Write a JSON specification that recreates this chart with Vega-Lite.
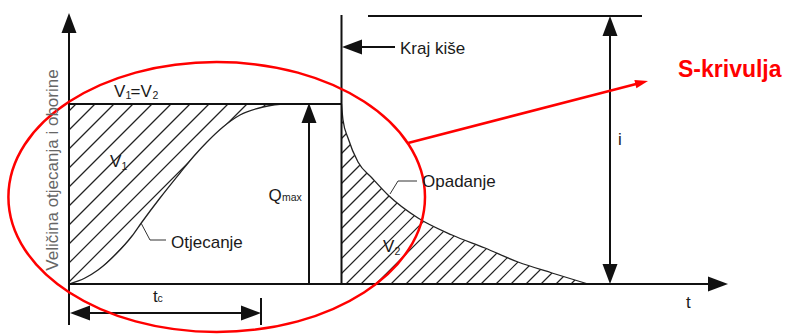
{
  "$schema": "https://vega.github.io/schema/vega-lite/v6.json",
  "width": 788,
  "height": 334,
  "autosize": "none",
  "padding": 0,
  "background": "white",
  "config": {"view": {"stroke": null}, "text": {"font": "Liberation Sans"}},
  "datasets": {
    "hatch1": [
      {"x": 69, "y": 111, "x2": 76, "y2": 104},
      {"x": 69, "y": 130, "x2": 95, "y2": 104},
      {"x": 69, "y": 149, "x2": 114, "y2": 104},
      {"x": 69, "y": 168, "x2": 133, "y2": 104},
      {"x": 69, "y": 187, "x2": 152, "y2": 104},
      {"x": 69, "y": 206, "x2": 171, "y2": 104},
      {"x": 69, "y": 225, "x2": 190, "y2": 104},
      {"x": 69, "y": 244, "x2": 209, "y2": 104},
      {"x": 69, "y": 263, "x2": 228, "y2": 104},
      {"x": 69, "y": 282, "x2": 247, "y2": 104},
      {"x": 86, "y": 284, "x2": 266, "y2": 104}
    ],
    "hatch2": [
      {"x": 341.5, "y": 108.5, "x2": 346, "y2": 104},
      {"x": 341.5, "y": 123.5, "x2": 361, "y2": 104},
      {"x": 341.5, "y": 138.5, "x2": 376, "y2": 104},
      {"x": 341.5, "y": 153.5, "x2": 391, "y2": 104},
      {"x": 341.5, "y": 168.5, "x2": 406, "y2": 104},
      {"x": 341.5, "y": 183.5, "x2": 421, "y2": 104},
      {"x": 341.5, "y": 198.5, "x2": 436, "y2": 104},
      {"x": 341.5, "y": 213.5, "x2": 451, "y2": 104},
      {"x": 341.5, "y": 228.5, "x2": 466, "y2": 104},
      {"x": 341.5, "y": 243.5, "x2": 481, "y2": 104},
      {"x": 341.5, "y": 258.5, "x2": 496, "y2": 104},
      {"x": 341.5, "y": 273.5, "x2": 511, "y2": 104},
      {"x": 346, "y": 284, "x2": 526, "y2": 104},
      {"x": 361, "y": 284, "x2": 541, "y2": 104},
      {"x": 376, "y": 284, "x2": 556, "y2": 104},
      {"x": 391, "y": 284, "x2": 571, "y2": 104},
      {"x": 406, "y": 284, "x2": 586, "y2": 104},
      {"x": 421, "y": 284, "x2": 601, "y2": 104},
      {"x": 436, "y": 284, "x2": 616, "y2": 104},
      {"x": 451, "y": 284, "x2": 631, "y2": 104},
      {"x": 466, "y": 284, "x2": 646, "y2": 104},
      {"x": 481, "y": 284, "x2": 661, "y2": 104},
      {"x": 496, "y": 284, "x2": 676, "y2": 104},
      {"x": 511, "y": 284, "x2": 691, "y2": 104},
      {"x": 526, "y": 284, "x2": 706, "y2": 104},
      {"x": 541, "y": 284, "x2": 721, "y2": 104},
      {"x": 556, "y": 284, "x2": 736, "y2": 104},
      {"x": 571, "y": 284, "x2": 751, "y2": 104},
      {"x": 586, "y": 284, "x2": 766, "y2": 104}
    ],
    "scurve": [
      {"x": 69, "y": 284}, {"x": 85, "y": 278}, {"x": 98, "y": 270}, {"x": 116, "y": 254},
      {"x": 132, "y": 236}, {"x": 142, "y": 222}, {"x": 160, "y": 198}, {"x": 180, "y": 173},
      {"x": 194, "y": 156}, {"x": 207, "y": 142}, {"x": 223, "y": 127}, {"x": 240, "y": 115},
      {"x": 263, "y": 107}, {"x": 285, "y": 104}, {"x": 341, "y": 104}
    ],
    "rcurve": [
      {"x": 341.5, "y": 104}, {"x": 343, "y": 120}, {"x": 348, "y": 138}, {"x": 358, "y": 162},
      {"x": 372, "y": 178}, {"x": 388, "y": 195}, {"x": 418, "y": 218}, {"x": 452, "y": 235},
      {"x": 485, "y": 248}, {"x": 518, "y": 262}, {"x": 552, "y": 273}, {"x": 588, "y": 284}
    ],
    "maskrect": [{"x": 588, "x2": 790, "y": 100, "y2": 284}],
    "rules": [
      {"x": 69, "y": 20, "x2": 69, "y2": 325},
      {"x": 69, "y": 284, "x2": 715, "y2": 284},
      {"x": 69, "y": 104, "x2": 341.5, "y2": 104},
      {"x": 341.5, "y": 15, "x2": 341.5, "y2": 284},
      {"x": 309, "y": 118, "x2": 309, "y2": 284},
      {"x": 368, "y": 16, "x2": 642, "y2": 16},
      {"x": 610, "y": 30, "x2": 610, "y2": 270},
      {"x": 355, "y": 47, "x2": 395, "y2": 47},
      {"x": 80, "y": 313, "x2": 250, "y2": 313},
      {"x": 261, "y": 298, "x2": 261, "y2": 325}
    ],
    "leaders": [
      {"id": "a", "o": 1, "x": 141, "y": 223}, {"id": "a", "o": 2, "x": 150, "y": 240}, {"id": "a", "o": 3, "x": 166, "y": 240},
      {"id": "b", "o": 1, "x": 390, "y": 194}, {"id": "b", "o": 2, "x": 398, "y": 181}, {"id": "b", "o": 3, "x": 417, "y": 181}
    ],
    "ellipse": [{"x": 216.7, "y": 197}],
    "redline": [{"x": 408, "y": 143, "x2": 640, "y2": 83}],
    "redhead": [{"x": 648, "y": 81, "a": 76}],
    "heads": [
      {"x": 69, "y": 13, "a": 0},
      {"x": 728, "y": 284, "a": 90},
      {"x": 309, "y": 103, "a": 0},
      {"x": 610, "y": 16, "a": 0},
      {"x": 610, "y": 284, "a": 180},
      {"x": 342, "y": 47, "a": 270},
      {"x": 70, "y": 313, "a": 270},
      {"x": 261, "y": 313, "a": 90}
    ],
    "labels": [
      {"t": "V", "x": 114, "y": 96.5},
      {"t": "=V", "x": 130.5, "y": 96.5},
      {"t": "V", "x": 110, "y": 167},
      {"t": "Q", "x": 268.5, "y": 200.5},
      {"t": "Otjecanje", "x": 171, "y": 248},
      {"t": "Opadanje", "x": 422, "y": 187},
      {"t": "V", "x": 383, "y": 252},
      {"t": "Kraj kiše", "x": 400, "y": 54.3},
      {"t": "i", "x": 618, "y": 145},
      {"t": "t", "x": 686, "y": 308},
      {"t": "t", "x": 153, "y": 302}
    ],
    "subs": [
      {"t": "1", "x": 125.5, "y": 99},
      {"t": "2", "x": 152.5, "y": 99},
      {"t": "1", "x": 121.5, "y": 170},
      {"t": "max", "x": 282, "y": 201},
      {"t": "2", "x": 394.5, "y": 255},
      {"t": "c", "x": 157.5, "y": 302}
    ],
    "ylabel": [{"t": "Veličina otjecanja i oborine", "x": 53, "y": 170}],
    "redtext": [{"t": "S-krivulja", "x": 678, "y": 77}]
  },
  "encoding": {
    "x": {"field": "x", "type": "quantitative", "scale": {"domain": [0, 788], "nice": false, "zero": false}, "axis": null},
    "y": {"field": "y", "type": "quantitative", "scale": {"domain": [0, 334], "nice": false, "zero": false, "reverse": true}, "axis": null}
  },
  "layer": [
    {"data": {"name": "hatch1"}, "mark": {"type": "rule", "color": "#222", "strokeWidth": 1.2},
     "encoding": {"x2": {"field": "x2"}, "y2": {"field": "y2"}}},
    {"data": {"name": "hatch2"}, "mark": {"type": "rule", "color": "#222", "strokeWidth": 1.2},
     "encoding": {"x2": {"field": "x2"}, "y2": {"field": "y2"}}},
    {"data": {"name": "scurve"}, "mark": {"type": "area", "color": "white", "opacity": 1, "interpolate": "monotone"},
     "encoding": {"y2": {"datum": 284}}},
    {"data": {"name": "rcurve"}, "mark": {"type": "area", "color": "white", "opacity": 1, "interpolate": "monotone"},
     "encoding": {"y2": {"datum": 102}}},
    {"data": {"name": "maskrect"}, "mark": {"type": "rect", "color": "white", "opacity": 1},
     "encoding": {"x2": {"field": "x2"}, "y2": {"field": "y2"}}},
    {"data": {"name": "scurve"}, "mark": {"type": "line", "color": "#222", "strokeWidth": 1.3, "interpolate": "monotone"},
     "encoding": {}},
    {"data": {"name": "rcurve"}, "mark": {"type": "line", "color": "#222", "strokeWidth": 1.3, "interpolate": "monotone"},
     "encoding": {}},
    {"data": {"name": "rules"}, "mark": {"type": "rule", "color": "#111", "strokeWidth": 2},
     "encoding": {"x2": {"field": "x2"}, "y2": {"field": "y2"}}},
    {"data": {"name": "leaders"}, "mark": {"type": "line", "color": "#333", "strokeWidth": 1},
     "encoding": {"detail": {"field": "id"}, "order": {"field": "o"}}},
    {"data": {"name": "ellipse"}, "mark": {"type": "point", "shape": "M-1,0A1,0.648,0,1,1,1,0A1,0.648,0,1,1,-1,0Z", "size": 173556, "filled": false, "stroke": "#ff0000", "strokeWidth": 2.5, "opacity": 1},
     "encoding": {}},
    {"data": {"name": "redline"}, "mark": {"type": "rule", "color": "#ff0000", "strokeWidth": 2.5},
     "encoding": {"x2": {"field": "x2"}, "y2": {"field": "y2"}}},
    {"data": {"name": "redhead"}, "mark": {"type": "point", "shape": "M0,0L0.65,2L-0.65,2Z", "size": 169, "filled": true, "color": "#ff0000", "opacity": 1},
     "encoding": {"angle": {"field": "a", "type": "quantitative", "scale": null}}},
    {"data": {"name": "heads"}, "mark": {"type": "point", "shape": "M0,0L0.75,2L-0.75,2Z", "size": 400, "filled": true, "color": "#111", "opacity": 1},
     "encoding": {"angle": {"field": "a", "type": "quantitative", "scale": null}}},
    {"data": {"name": "labels"}, "mark": {"type": "text", "fontSize": 17, "color": "#1a1a1a", "align": "left", "baseline": "alphabetic"},
     "encoding": {"text": {"field": "t"}}},
    {"data": {"name": "subs"}, "mark": {"type": "text", "fontSize": 10.5, "color": "#1a1a1a", "align": "left", "baseline": "alphabetic"},
     "encoding": {"text": {"field": "t"}}},
    {"data": {"name": "ylabel"}, "mark": {"type": "text", "fontSize": 17, "color": "#666", "align": "center", "baseline": "middle", "angle": 270},
     "encoding": {"text": {"field": "t"}}},
    {"data": {"name": "redtext"}, "mark": {"type": "text", "fontSize": 23, "fontWeight": "bold", "color": "#ff0000", "align": "left", "baseline": "alphabetic"},
     "encoding": {"text": {"field": "t"}}}
  ]
}
